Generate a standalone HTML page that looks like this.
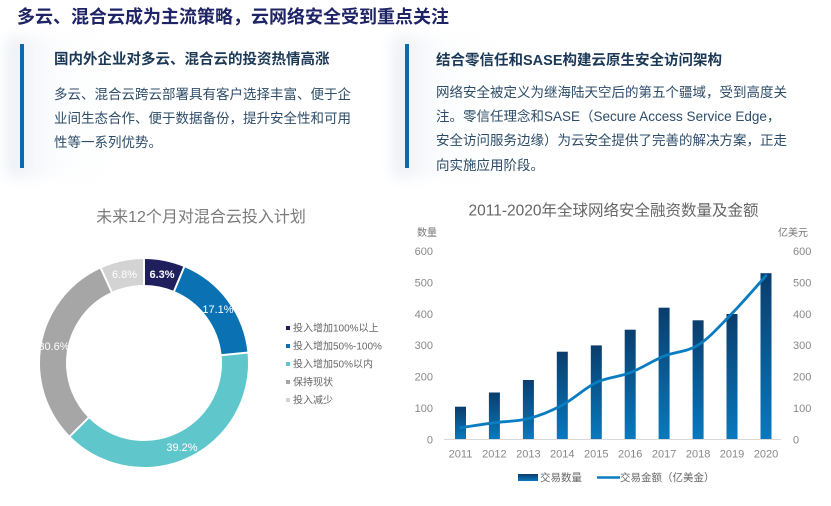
<!DOCTYPE html>
<html><head><meta charset="utf-8">
<style>
html,body{margin:0;padding:0;background:#fff;}
body{width:831px;height:506px;position:relative;overflow:hidden;font-family:"Liberation Sans","Noto Sans CJK SC",sans-serif;}
.abs{position:absolute;white-space:nowrap;}
.title{left:17px;top:5px;font-size:18px;line-height:24px;font-weight:bold;color:#1f2466;}
.glow{position:absolute;border-radius:8px;background:linear-gradient(90deg,rgba(200,210,225,0.35),rgba(235,240,246,0.15) 40%,rgba(255,255,255,0) 100%);filter:blur(6px);}
.bar{position:absolute;width:4px;background:#0b6aae;}
.h{font-size:14.5px;line-height:20px;font-weight:bold;color:#1b3856;}
.b{font-size:13.5px;line-height:24.2px;color:#2d4c68;}
svg{position:absolute;left:0;top:0;}
</style></head><body>
<div class="abs title">多云、混合云成为主流策略，云网络安全受到重点关注</div>

<div class="glow" style="left:6px;top:36px;width:120px;height:142px;"></div>
<div class="glow" style="left:392px;top:36px;width:120px;height:142px;"></div>

<div class="bar" style="left:20px;top:44px;height:124px;"></div>
<div class="abs h" style="left:54px;top:50px;">国内外企业对多云、混合云的投资热情高涨</div>
<div class="abs b" style="left:54px;top:83px;">多云、混合云跨云部署具有客户选择丰富、便于企<br>业间生态合作、便于数据备份，提升安全性和可用<br>性等一系列优势。</div>

<div class="bar" style="left:405px;top:44px;height:124px;"></div>
<div class="abs h" style="left:436px;top:51px;">结合零信任和SASE构建云原生安全访问架构</div>
<div class="abs b" style="left:436px;top:81px;">网络安全被定义为继海陆天空后的第五个疆域，受到高度关<br>注。零信任理念和SASE（Secure Access Service Edge，<br>安全访问服务边缘）为云安全提供了完善的解决方案，正走<br>向实施应用阶段。</div>

<svg width="831" height="506" viewBox="0 0 831 506" font-family="Liberation Sans, Noto Sans CJK SC, sans-serif">
  <defs>
    <linearGradient id="bg" x1="0" y1="0" x2="0" y2="1">
      <stop offset="0" stop-color="#0a3d6c"/>
      <stop offset="1" stop-color="#0879be"/>
    </linearGradient>
  </defs>

  <!-- Donut -->
  <text x="201" y="222" font-size="16" fill="#7a7a7a" text-anchor="middle">未来12个月对混合云投入计划</text>
  <g transform="rotate(-90 144 363)" fill="none" stroke-width="26">
    <circle cx="144" cy="363" r="91" stroke="#1f1f5e" stroke-dasharray="36.02 600" stroke-dashoffset="0"/>
    <circle cx="144" cy="363" r="91" stroke="#0a71b3" stroke-dasharray="97.77 600" stroke-dashoffset="-36.02"/>
    <circle cx="144" cy="363" r="91" stroke="#5fc7cc" stroke-dasharray="224.13 600" stroke-dashoffset="-133.79"/>
    <circle cx="144" cy="363" r="91" stroke="#a6a6a6" stroke-dasharray="174.96 600" stroke-dashoffset="-357.92"/>
    <circle cx="144" cy="363" r="91" stroke="#d3d3d3" stroke-dasharray="38.88 600" stroke-dashoffset="-532.88"/>
  </g>
  <g stroke="#fff" stroke-width="2">
    <line x1="144" y1="258" x2="144" y2="286"/>
    <line x1="173.7" y1="292" x2="184.5" y2="266.1"/>
    <line x1="220.6" y1="355.3" x2="248.5" y2="352.5"/>
    <line x1="89.2" y1="417.1" x2="69.3" y2="436.8"/>
    <line x1="112.1" y1="292.9" x2="100.5" y2="267.4"/>
  </g>
  <g font-size="11" fill="#fff" text-anchor="middle">
    <text x="162" y="278" font-weight="bold">6.3%</text>
    <text x="218" y="313">17.1%</text>
    <text x="182" y="451">39.2%</text>
    <text x="54" y="350">30.6%</text>
    <text x="124.5" y="278">6.8%</text>
  </g>
  <g font-size="10" fill="#666">
    <rect x="286" y="326" width="4" height="4" fill="#1f1f5e"/><text x="293" y="331.5">投入增加100%以上</text>
    <rect x="286" y="344" width="4" height="4" fill="#0a71b3"/><text x="293" y="349.5">投入增加50%-100%</text>
    <rect x="286" y="362" width="4" height="4" fill="#5fc7cc"/><text x="293" y="367.5">投入增加50%以内</text>
    <rect x="286" y="380" width="4" height="4" fill="#a6a6a6"/><text x="293" y="385.5">保持现状</text>
    <rect x="286" y="398" width="4" height="4" fill="#d3d3d3"/><text x="293" y="403.5">投入减少</text>
  </g>

  <!-- Bar chart -->
  <text x="613.5" y="215.5" font-size="15.5" fill="#666" text-anchor="middle">2011-2020年全球网络安全融资数量及金额</text>
  <text x="417" y="236" font-size="10" fill="#777">数量</text>
  <text x="778" y="236" font-size="10" fill="#777">亿美元</text>
  <g font-size="11" fill="#888" text-anchor="end">
    <text x="433" y="255">600</text>
    <text x="433" y="286.4">500</text>
    <text x="433" y="317.8">400</text>
    <text x="433" y="349.2">300</text>
    <text x="433" y="380.6">200</text>
    <text x="433" y="412">100</text>
    <text x="433" y="443.4">0</text>
  </g>
  <g font-size="11" fill="#888">
    <text x="793" y="255">600</text>
    <text x="793" y="286.4">500</text>
    <text x="793" y="317.8">400</text>
    <text x="793" y="349.2">300</text>
    <text x="793" y="380.6">200</text>
    <text x="793" y="412">100</text>
    <text x="793" y="443.4">0</text>
  </g>
  <line x1="444" y1="439.5" x2="781" y2="439.5" stroke="#d9d9d9" stroke-width="1"/>
  <g fill="url(#bg)">
    <rect x="455" y="406.7" width="11" height="32.3"/>
    <rect x="488.9" y="392.5" width="11" height="46.5"/>
    <rect x="522.9" y="380" width="11" height="59"/>
    <rect x="556.8" y="351.7" width="11" height="87.3"/>
    <rect x="590.8" y="345.4" width="11" height="93.6"/>
    <rect x="624.7" y="329.7" width="11" height="109.3"/>
    <rect x="658.6" y="307.7" width="11" height="131.3"/>
    <rect x="692.6" y="320.3" width="11" height="118.7"/>
    <rect x="726.5" y="314" width="11" height="125"/>
    <rect x="760.5" y="273.2" width="11" height="165.8"/>
  </g>
  <path d="M460.5,427.7 C466.2,426.9 483.1,424.2 494.4,422.7 C505.7,421.2 517.1,421.5 528.4,418.6 C539.7,415.7 551,411.1 562.3,405.1 C573.6,399.1 585,387.9 596.3,382.5 C607.6,377.1 618.9,377.1 630.2,372.7 C641.5,368.3 652.8,360.7 664.1,356.1 C675.4,351.5 686.8,352.2 698.1,345.1 C709.4,338 720.7,325 732,313.4 C743.3,301.8 760.3,282 766,275.7" fill="none" stroke="#0a7cc0" stroke-width="2.8" stroke-linecap="round" stroke-linejoin="round"/>
  <g font-size="11" fill="#888" text-anchor="middle">
    <text x="460.5" y="457.5">2011</text>
    <text x="494.4" y="457.5">2012</text>
    <text x="528.4" y="457.5">2013</text>
    <text x="562.3" y="457.5">2014</text>
    <text x="596.3" y="457.5">2015</text>
    <text x="630.2" y="457.5">2016</text>
    <text x="664.1" y="457.5">2017</text>
    <text x="698.1" y="457.5">2018</text>
    <text x="732" y="457.5">2019</text>
    <text x="766" y="457.5">2020</text>
  </g>
  <rect x="518" y="474" width="20" height="7" fill="url(#bg)"/>
  <text x="540" y="481" font-size="10.5" fill="#666">交易数量</text>
  <line x1="597" y1="477.5" x2="620" y2="477.5" stroke="#0a7cc0" stroke-width="2.5"/>
  <text x="620" y="481" font-size="10.5" fill="#666">交易金额（亿美金）</text>
</svg>
</body></html>
